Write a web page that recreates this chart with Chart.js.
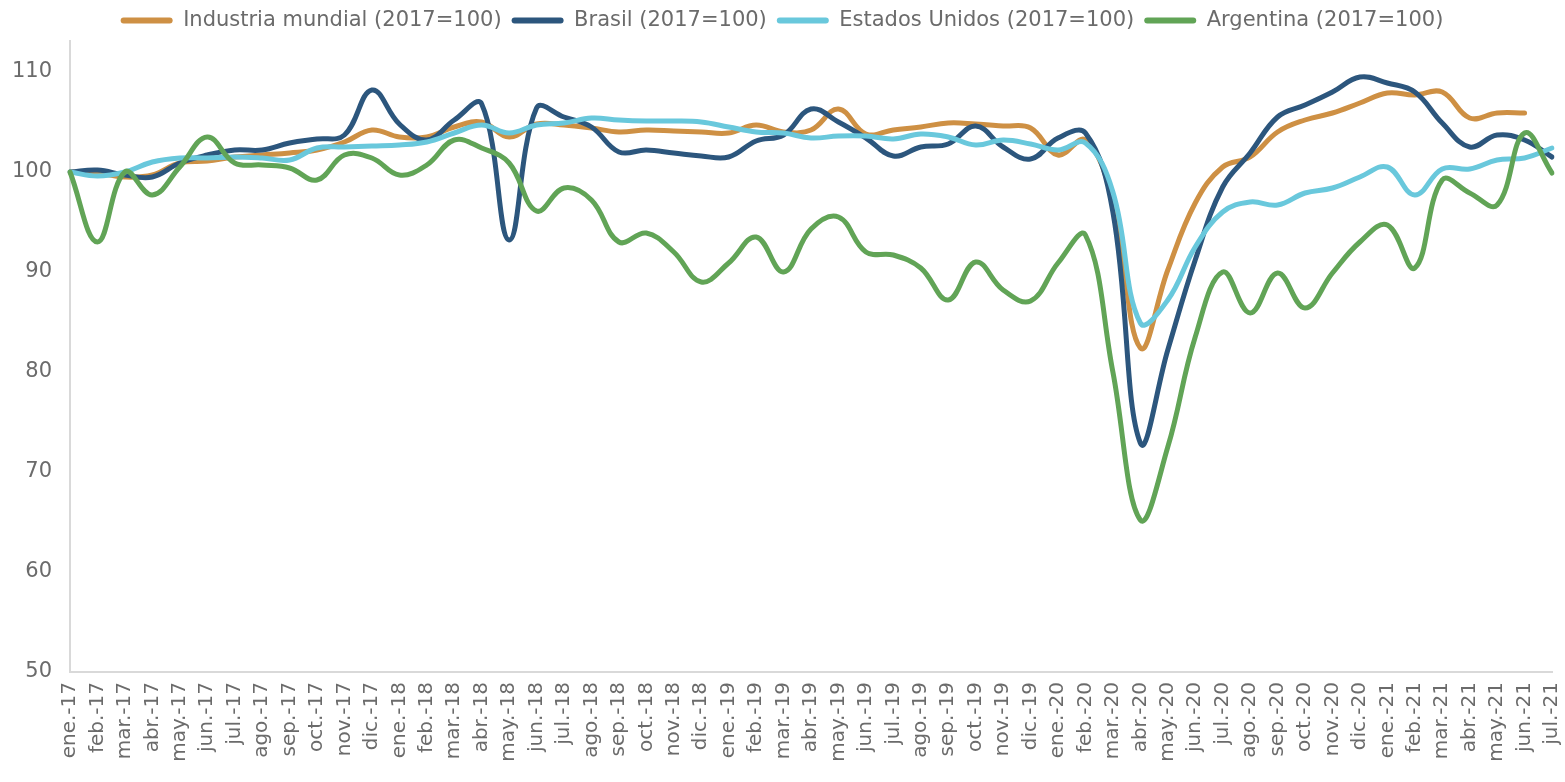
<!DOCTYPE html>
<html>
<head>
<meta charset="utf-8">
<script src="https://cdn.jsdelivr.net/npm/chart.js@4.4.1/dist/chart.umd.min.js"></script>
<style>
  html, body { margin: 0; padding: 0; background: #ffffff; }
  #wrap { width: 1565px; height: 782px; position: relative; }
</style>
</head>
<body>
<div id="wrap"><canvas id="c" width="1565" height="782"></canvas></div>
<script>
const categories = [
  "ene.-17","feb.-17","mar.-17","abr.-17","may.-17","jun.-17","jul.-17","ago.-17","sep.-17","oct.-17","nov.-17","dic.-17",
  "ene.-18","feb.-18","mar.-18","abr.-18","may.-18","jun.-18","jul.-18","ago.-18","sep.-18","oct.-18","nov.-18","dic.-18",
  "ene.-19","feb.-19","mar.-19","abr.-19","may.-19","jun.-19","jul.-19","ago.-19","sep.-19","oct.-19","nov.-19","dic.-19",
  "ene.-20","feb.-20","mar.-20","abr.-20","may.-20","jun.-20","jul.-20","ago.-20","sep.-20","oct.-20","nov.-20","dic.-20",
  "ene.-21","feb.-21","mar.-21","abr.-21","may.-21","jun.-21","jul.-21"
];

const industriaMundial = [
  100, 99.9, 99.5, 99.7, 100.9, 101.1, 101.5, 101.7, 101.9, 102.2, 103.0, 104.2,
  103.5, 103.5, 104.5, 105.0, 103.5, 104.8, 104.7, 104.4, 104.0, 104.2, 104.1, 104.0,
  103.9, 104.7, 104.0, 104.2, 106.3, 103.8, 104.2, 104.5, 104.9, 104.8, 104.6, 104.4,
  101.7, 103.2, 97.0, 82.4, 90.2, 96.9, 100.5, 101.5, 104.0, 105.2, 105.9, 106.9,
  107.9, 107.7, 108.0, 105.4, 105.9, 105.9, null
];

const brasil = [
  100, 100.2, 99.7, 99.5, 100.9, 101.7, 102.2, 102.2, 102.9, 103.3, 103.7, 108.2,
  104.8, 103.2, 105.2, 106.8, 93.2, 106.4, 105.5, 104.5, 102.0, 102.2, 101.9, 101.6,
  101.5, 103.1, 103.7, 106.3, 105.0, 103.4, 101.6, 102.5, 102.8, 104.6, 102.5, 101.3,
  103.4, 103.9, 96.0, 72.9, 82.2, 91.2, 98.5, 101.9, 105.5, 106.7, 108.0, 109.5,
  108.9, 108.0, 104.9, 102.5, 103.7, 103.2, 101.5
];

const estadosUnidos = [
  100, 99.6, 100.0, 101.0, 101.4, 101.4, 101.5, 101.4, 101.2, 102.4, 102.5, 102.6,
  102.7, 103.0, 103.9, 104.7, 103.9, 104.7, 104.9, 105.4, 105.2, 105.1, 105.1, 105.0,
  104.5, 104.0, 103.9, 103.4, 103.6, 103.6, 103.3, 103.8, 103.5, 102.7, 103.2, 102.8,
  102.2, 102.9, 98.0, 84.9, 87.2, 92.5, 96.0, 97.0, 96.7, 97.9, 98.4, 99.5,
  100.5, 97.7, 100.3, 100.3, 101.2, 101.4, 102.4
];

const argentina = [
  100, 93.0, 100.0, 97.7, 100.5, 103.5, 100.9, 100.7, 100.4, 99.2, 101.7, 101.4,
  99.7, 100.7, 103.2, 102.4, 100.9, 96.1, 98.4, 97.2, 93.0, 93.9, 92.0, 89.0,
  90.9, 93.5, 90.0, 94.3, 95.5, 92.0, 91.7, 90.4, 87.2, 91.0, 88.2, 87.1,
  90.9, 93.7, 80.0, 65.2, 72.5, 83.5, 90.0, 85.9, 89.9, 86.4, 89.9, 93.0,
  94.7, 90.4, 99.2, 97.9, 96.7, 103.9, 99.9
];

const seriesNames = [
  "Industria mundial (2017=100)",
  "Brasil (2017=100)",
  "Estados Unidos (2017=100)",
  "Argentina (2017=100)"
];
const seriesColors = ["#CE9044", "#2C567D", "#69C8DC", "#61A456"];
const seriesData = [industriaMundial, brasil, estadosUnidos, argentina];

const yTicks = [50, 60, 70, 80, 90, 100, 110];

const FONT = "'DejaVu Sans', Verdana, sans-serif";
const TEXT = "#6b6b6b";

const datasets = seriesData.map((d, i) => ({
  label: seriesNames[i],
  data: d,
  borderColor: seriesColors[i],
  backgroundColor: seriesColors[i],
  borderWidth: 5,
  pointRadius: 0,
  tension: 0.4,
  fill: false,
  borderCapStyle: 'round',
  borderJoinStyle: 'round',
  order: seriesData.length - i
}));

new Chart(document.getElementById('c'), {
  type: 'line',
  data: { labels: categories, datasets },
  options: {
    responsive: false,
    animation: false,
    devicePixelRatio: 1,
    layout: { padding: { left: 12, right: 13, top: 0, bottom: 0 } },
    plugins: {
      tooltip: { enabled: false },
      legend: {
        position: 'top',
        align: 'center',
        labels: {
          font: { family: FONT, size: 21 },
          color: TEXT,
          boxWidth: 52,
          boxHeight: 6,
          padding: 10,
          useBorderRadius: true,
          borderRadius: 3,
          generateLabels(chart) {
            const items = Chart.defaults.plugins.legend.labels.generateLabels(chart);
            items.sort((a, b) => a.datasetIndex - b.datasetIndex);
            items.forEach(it => {
              it.lineWidth = 0;
              it.fillStyle = seriesColors[it.datasetIndex];
              it.strokeStyle = seriesColors[it.datasetIndex];
            });
            return items;
          }
        }
      }
    },
    scales: {
      x: {
        offset: false,
        grid: { display: false, drawTicks: false },
        border: { display: true, color: '#d9d9d9', width: 2 },
        afterFit(scale) { scale.height = 110; scale.paddingLeft = 0; scale.paddingRight = 0; },
        ticks: {
          autoSkip: false,
          maxRotation: 90,
          minRotation: 90,
          padding: 10,
          color: TEXT,
          font: { family: FONT, size: 20 }
        }
      },
      y: {
        min: 50,
        max: 113.1,
        afterBuildTicks(scale) { scale.ticks = yTicks.map(v => ({ value: v })); },
        afterFit(scale) { scale.width = 58; },
        grid: { display: false, drawTicks: false },
        border: { display: true, color: '#d9d9d9', width: 2 },
        ticks: {
          padding: 18,
          color: TEXT,
          font: { family: FONT, size: 21 }
        }
      }
    }
  }
});
</script>
</body>
</html>
